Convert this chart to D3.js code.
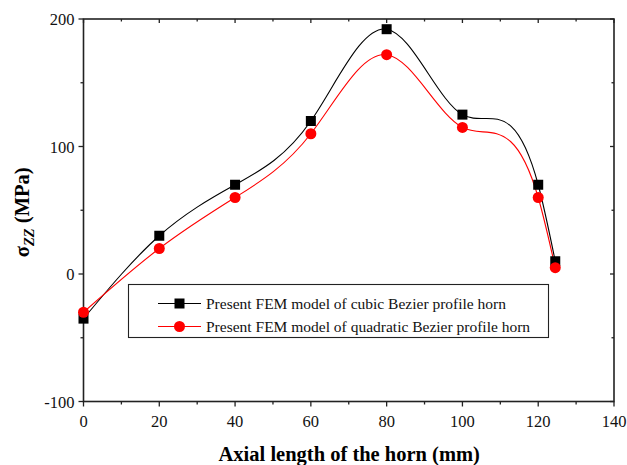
<!DOCTYPE html>
<html>
<head>
<meta charset="utf-8">
<script src="https://cdn.jsdelivr.net/npm/d3@7"></script>
<style>
  html, body { margin: 0; padding: 0; background: #fff; }
  svg text { font-family: "Liberation Serif", "Times New Roman", serif; }
</style>
</head>
<body>
<svg id="chart" width="627" height="465"></svg>
<script>
// Axial position along the horn (mm)
const positions = [0, 20, 40, 60, 80, 100, 120, 124.5];
// Axial stress sigma_zz (MPa)
const cubicStress = [-35, 30, 70, 120, 192, 125, 70, 10];
const quadraticStress = [-30, 20, 60, 110, 172, 115, 60, 5];
const seriesNames = [
  "Present FEM model of cubic Bezier profile horn",
  "Present FEM model of quadratic Bezier profile horn"
];
const xTicks = [0, 20, 40, 60, 80, 100, 120, 140];
const yTicks = [-100, 0, 100, 200];

// Curve factory: natural cubic spline of y as a function of x,
// each interval emitted as an exact cubic Bezier segment.
function curveSplineX(context) {
  let xs, ys;
  return {
    areaStart() {}, areaEnd() {},
    lineStart() { xs = []; ys = []; },
    point(px, py) { xs.push(+px); ys.push(+py); },
    lineEnd() {
      const n = xs.length;
      if (!n) return;
      context.moveTo(xs[0], ys[0]);
      if (n === 2) { context.lineTo(xs[1], ys[1]); return; }
      const h = [], s = [];
      for (let i = 0; i < n - 1; i++) {
        h.push(xs[i + 1] - xs[i]);
        s.push((ys[i + 1] - ys[i]) / h[i]);
      }
      // Tridiagonal solve for second derivatives (natural ends)
      const M = new Array(n).fill(0);
      const a = [], b = [], c = [], r = [];
      for (let i = 1; i < n - 1; i++) {
        a.push(h[i - 1]); b.push(2 * (h[i - 1] + h[i])); c.push(h[i]);
        r.push(6 * (s[i] - s[i - 1]));
      }
      const k = r.length;
      for (let i = 1; i < k; i++) {
        const w = a[i] / b[i - 1];
        b[i] -= w * c[i - 1];
        r[i] -= w * r[i - 1];
      }
      const sol = new Array(k);
      sol[k - 1] = r[k - 1] / b[k - 1];
      for (let i = k - 2; i >= 0; i--) sol[i] = (r[i] - c[i] * sol[i + 1]) / b[i];
      for (let i = 0; i < k; i++) M[i + 1] = sol[i];
      for (let i = 0; i < n - 1; i++) {
        const d0 = s[i] - h[i] * (2 * M[i] + M[i + 1]) / 6;
        const d1 = s[i] + h[i] * (M[i] + 2 * M[i + 1]) / 6;
        const t = h[i] / 3;
        context.bezierCurveTo(
          xs[i] + t, ys[i] + d0 * t,
          xs[i + 1] - t, ys[i + 1] - d1 * t,
          xs[i + 1], ys[i + 1]
        );
      }
    }
  };
}

const svg = d3.select("#chart");
const m = { left: 83.5, right: 614, top: 19, bottom: 401.5 };

const x = d3.scaleLinear().domain([0, 140]).range([m.left, m.right]);
const y = d3.scaleLinear().domain([-100, 200]).range([m.bottom, m.top]);

const axisColor = "#222";
const g = svg.append("g");

// Frame
g.append("rect")
  .attr("x", m.left).attr("y", m.top)
  .attr("width", m.right - m.left).attr("height", m.bottom - m.top)
  .attr("fill", "none").attr("stroke", axisColor).attr("stroke-width", 1.6);

// Ticks: major and minor on all four sides
const xMinor = d3.range(10, 140, 20);
const yMinor = d3.range(-50, 200, 100);
function tickLines(vals, len, side) {
  vals.forEach(v => {
    let l;
    if (side === "bottom") l = [x(v), m.bottom, x(v), m.bottom + len];
    if (side === "top") l = [x(v), m.top, x(v), m.top + len];
    if (side === "left") l = [m.left, y(v), m.left - len, y(v)];
    if (side === "right") l = [m.right, y(v), m.right - len, y(v)];
    g.append("line")
      .attr("x1", l[0]).attr("y1", l[1]).attr("x2", l[2]).attr("y2", l[3])
      .attr("stroke", axisColor).attr("stroke-width", 1.3);
  });
}
tickLines(xTicks, 5, "bottom");
tickLines(xMinor, 3, "bottom");
tickLines(xTicks, 4, "top");
tickLines(xMinor, 2.5, "top");
tickLines(yTicks, 5, "left");
tickLines(yMinor, 3, "left");
tickLines(yTicks, 4, "right");
tickLines(yMinor, 2.5, "right");

// Tick labels
g.selectAll(".xl").data(xTicks).join("text")
  .attr("x", d => x(d)).attr("y", m.bottom + 25)
  .attr("text-anchor", "middle").attr("font-size", 16.5).attr("fill", "#111")
  .text(d => d);
g.selectAll(".yl").data(yTicks).join("text")
  .attr("x", m.left - 9).attr("y", d => y(d) + 6)
  .attr("text-anchor", "end").attr("font-size", 16.5).attr("fill", "#111")
  .text(d => d);

// Axis titles
svg.append("text")
  .attr("x", (m.left + m.right) / 2 + 0.5).attr("y", 461)
  .attr("text-anchor", "middle").attr("font-size", 20.5).attr("font-weight", "bold")
  .text("Axial length of the horn (mm)");

const yt = svg.append("text")
  .attr("transform", `translate(29, ${(m.top + m.bottom) / 2 + 2}) rotate(-90)`)
  .attr("text-anchor", "middle").attr("font-size", 20.5).attr("font-weight", "bold");
yt.append("tspan").text("σ");
yt.append("tspan").attr("font-style", "italic").attr("font-size", 14.5).attr("dy", 5).text("ZZ");
yt.append("tspan").attr("dy", -5).text(" (MPa)");

// Curves
const line = d3.line()
  .x((d, i) => x(positions[i]))
  .y(d => y(d))
  .curve(curveSplineX);

const series = [
  { vals: cubicStress, color: "#000", shape: "square" },
  { vals: quadraticStress, color: "#ff0000", shape: "circle" }
];

series.forEach(s => {
  g.append("path").attr("d", line(s.vals))
    .attr("fill", "none").attr("stroke", s.color).attr("stroke-width", 1.1);
});

function marker(sel, shape, color, cx, cy) {
  if (shape === "square") {
    sel.append("rect").attr("x", cx - 5).attr("y", cy - 5)
      .attr("width", 10).attr("height", 10).attr("fill", color);
  } else {
    sel.append("circle").attr("cx", cx).attr("cy", cy).attr("r", 5.5).attr("fill", color);
  }
}
series.forEach(s => {
  s.vals.forEach((v, i) => marker(g, s.shape, s.color, x(positions[i]), y(v)));
});

// Legend
const lg = svg.append("g");
lg.append("rect").attr("x", 128.5).attr("y", 284.5).attr("width", 420).attr("height", 53)
  .attr("fill", "#fff").attr("stroke", axisColor).attr("stroke-width", 1.1);
series.forEach((s, i) => {
  const ly = 303.5 + i * 23;
  lg.append("line").attr("x1", 158).attr("x2", 201).attr("y1", ly).attr("y2", ly)
    .attr("stroke", s.color).attr("stroke-width", 1.1);
  marker(lg, s.shape, s.color, 179.5, ly);
  lg.append("text").attr("x", 206).attr("y", ly + 5)
    .attr("font-size", 15.5).attr("fill", "#111").text(seriesNames[i]);
});
</script>
</body>
</html>
